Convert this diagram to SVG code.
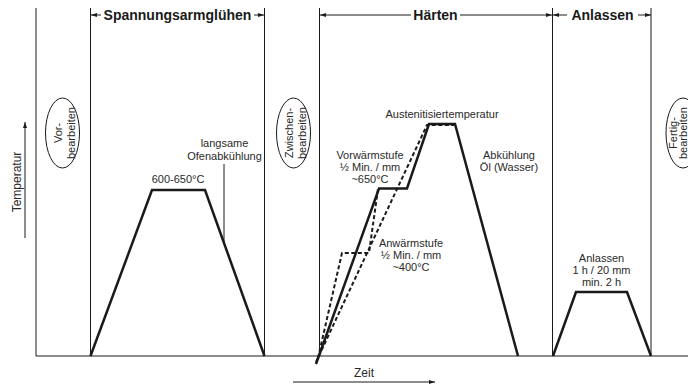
<svg xmlns="http://www.w3.org/2000/svg" width="688" height="388" viewBox="0 0 688 388">
<style>
.t{font-family:"Liberation Sans",Arial,sans-serif;font-size:11px;fill:#2a2a2a;text-anchor:middle}
.h{font-family:"Liberation Sans",Arial,sans-serif;font-size:14px;font-weight:bold;fill:#1a1a1a;text-anchor:middle}
.ax{font-family:"Liberation Sans",Arial,sans-serif;font-size:12px;fill:#2a2a2a;text-anchor:middle}
.v{stroke:#1a1a1a;stroke-width:1;fill:none}
.c{stroke:#1a1a1a;stroke-width:2.5;fill:none;stroke-linejoin:miter}
.d{stroke:#1a1a1a;stroke-width:2;fill:none;stroke-dasharray:4 2.5}
.a{stroke:#1a1a1a;stroke-width:1;fill:none;marker-end:url(#ah)}
.e{stroke:#1a1a1a;stroke-width:1;fill:#fff}
</style>
<defs>
<marker id="ah" viewBox="0 0 6 4" refX="6" refY="2" markerWidth="6" markerHeight="4" markerUnits="userSpaceOnUse" orient="auto">
<path d="M0,0 L6,2 L0,4 z" fill="#1a1a1a"/>
</marker>
</defs>
<rect width="688" height="388" fill="#fff"/>

<g id="frame">
<line class="v" x1="36" y1="8" x2="36" y2="356"/>
<line class="v" x1="90.5" y1="8" x2="90.5" y2="356"/>
<line class="v" x1="264.5" y1="8" x2="264.5" y2="356"/>
<line class="v" x1="319.5" y1="8" x2="319.5" y2="356"/>
<line class="v" x1="552.5" y1="8" x2="552.5" y2="356"/>
<line class="v" x1="651" y1="8" x2="651" y2="356"/>
<line class="v" x1="36" y1="356" x2="688" y2="356" stroke-width="1.2"/>
</g>

<g id="headers">
<path class="a" d="M101,15 H91"/>
<path class="a" d="M254,15 H264"/>
<text class="h" x="177.5" y="20">Spannungsarmglühen</text>
<path class="a" d="M411,15 H320"/>
<path class="a" d="M460,15 H552"/>
<text class="h" x="435.5" y="20">Härten</text>
<path class="a" d="M567,15 H553"/>
<path class="a" d="M638,15 H651"/>
<text class="h" x="602.5" y="20">Anlassen</text>
</g>

<g id="axes">
<path class="a" d="M25,238 V122"/>
<text class="ax" transform="translate(21,182) rotate(-90)">Temperatur</text>
<path class="a" d="M293,382 H435"/>
<text class="ax" x="364" y="377">Zeit</text>
</g>

<g id="vorbearbeiten">
<ellipse class="e" cx="62.5" cy="133" rx="17" ry="35"/>
<text class="t" transform="translate(62,133) rotate(-90)">Vor-</text>
<text class="t" transform="translate(74.5,133) rotate(-90)">bearbeiten</text>
</g>

<g id="zwischenbearbeiten">
<ellipse class="e" cx="293.5" cy="133" rx="17" ry="35"/>
<text class="t" transform="translate(293,133) rotate(-90)">Zwischen-</text>
<text class="t" transform="translate(305.5,133) rotate(-90)">bearbeiten</text>
</g>

<g id="fertigbearbeiten">
<ellipse class="e" cx="683" cy="133" rx="17" ry="35"/>
<text class="t" transform="translate(676.5,133) rotate(-90)">Fertig-</text>
<text class="t" transform="translate(687,133) rotate(-90)">bearbeiten</text>
</g>

<g id="spannungsarmgluehen">
<path class="c" d="M90.5,356 L152,190 H205 L264.5,356"/>
<line class="v" x1="224" y1="164" x2="224" y2="244"/>
<text class="t" x="224.5" y="147">langsame</text>
<text class="t" x="224.5" y="160">Ofenabkühlung</text>
<text class="t" x="178" y="183">600-650°C</text>
</g>

<g id="haerten">
<path class="d" d="M318,358 L342,253 H369 L378,189"/>
<path class="d" d="M316,362 L427,125 H454"/>
<path class="c" d="M316,364 L379,188.5 H407 L429,124 H455 L518,356"/>
<text class="t" x="442" y="118">Austenitisiertemperatur</text>
<text class="t" x="370" y="159">Vorwärmstufe</text>
<text class="t" x="370" y="171">½ Min. / mm</text>
<text class="t" x="370" y="183">~650°C</text>
<text class="t" x="411" y="247">Anwärmstufe</text>
<text class="t" x="411" y="259">½ Min. / mm</text>
<text class="t" x="411" y="271">~400°C</text>
<text class="t" x="509" y="159">Abkühlung</text>
<text class="t" x="509" y="171">Öl (Wasser)</text>
</g>

<g id="anlassen">
<path class="c" d="M553,356 L576,292 H627 L651,356"/>
<text class="t" x="601.5" y="262">Anlassen</text>
<text class="t" x="601.5" y="274">1 h / 20 mm</text>
<text class="t" x="601.5" y="286">min. 2 h</text>
</g>
</svg>
